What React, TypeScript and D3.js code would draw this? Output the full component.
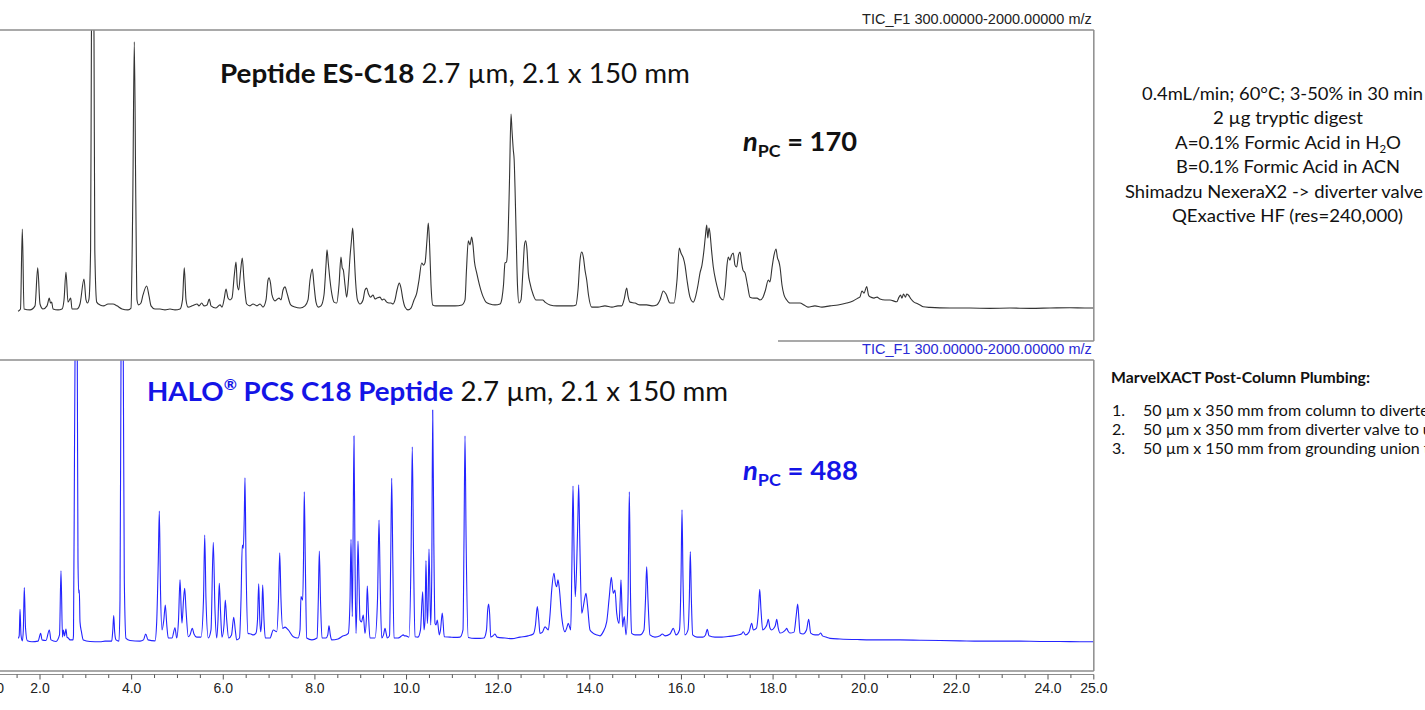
import { useEffect, useRef } from 'react';
import * as d3 from 'd3';

// retention time (min), relative intensity (% of frame height)
const esC18Trace: [number, number][] = [
  [1.520,9.6],[1.574,10.3],[1.614,36.0],[1.651,10.3],[1.782,10.0],[1.891,11.3],[1.950,23.5],[2.000,11.9],[2.065,10.3],[2.153,11.3],[2.203,13.8],[2.229,12.2],[2.255,12.5],[2.284,10.3],[2.393,10.0],[2.480,10.3],[2.524,13.2],[2.567,22.2],[2.611,12.5],[2.670,13.8],[2.698,10.3],[2.808,10.3],[2.873,11.9],[2.960,19.9],[3.004,13.2],[3.037,12.2],[3.069,13.5],[3.104,29.3],[3.122,96.8],[3.150,157.9],[3.179,96.8],[3.196,29.3],[3.238,12.5],[3.310,11.6],[3.397,11.3],[3.484,11.9],[3.593,11.9],[3.681,11.3],[3.790,10.3],[3.921,10.0],[3.986,10.6],[4.025,45.3],[4.058,96.2],[4.091,45.3],[4.117,13.2],[4.150,11.6],[4.204,12.2],[4.248,14.8],[4.329,17.7],[4.379,14.5],[4.423,11.3],[4.510,10.3],[4.619,10.3],[4.728,10.0],[4.837,10.3],[4.946,10.0],[5.056,10.3],[5.110,13.2],[5.149,23.5],[5.187,13.2],[5.230,10.9],[5.317,11.3],[5.361,11.6],[5.427,11.9],[5.470,11.3],[5.529,12.2],[5.579,11.3],[5.645,11.6],[5.695,13.5],[5.732,11.3],[5.841,10.6],[5.929,11.6],[5.972,10.9],[6.016,13.2],[6.060,16.7],[6.103,13.8],[6.147,13.2],[6.190,13.8],[6.241,21.2],[6.278,25.4],[6.306,18.0],[6.337,16.4],[6.376,22.2],[6.415,26.7],[6.452,19.6],[6.511,11.9],[6.583,11.3],[6.649,11.9],[6.736,11.3],[6.802,11.9],[6.867,10.9],[6.933,13.2],[6.976,19.6],[6.998,20.3],[7.031,18.6],[7.063,14.8],[7.129,12.9],[7.216,13.8],[7.260,13.2],[7.304,16.4],[7.347,17.4],[7.391,15.4],[7.472,11.6],[7.565,10.9],[7.675,10.6],[7.784,11.3],[7.849,13.2],[7.893,19.6],[7.943,23.1],[7.980,18.0],[8.024,12.5],[8.074,10.9],[8.133,11.3],[8.198,14.8],[8.242,24.4],[8.264,29.3],[8.292,25.1],[8.329,19.6],[8.373,14.8],[8.417,12.5],[8.476,12.2],[8.526,18.0],[8.569,27.0],[8.596,23.5],[8.620,22.8],[8.657,18.0],[8.694,14.1],[8.733,19.6],[8.766,27.0],[8.799,32.5],[8.825,36.3],[8.853,29.3],[8.886,19.6],[8.929,13.2],[8.984,11.9],[9.050,13.2],[9.093,16.4],[9.130,17.0],[9.170,15.1],[9.213,14.1],[9.268,14.8],[9.311,13.5],[9.355,13.8],[9.421,14.1],[9.464,13.2],[9.508,13.5],[9.567,12.5],[9.617,12.2],[9.661,12.2],[9.704,11.9],[9.748,13.2],[9.792,16.4],[9.842,18.6],[9.879,17.0],[9.923,13.2],[9.966,10.9],[10.032,10.0],[10.097,10.6],[10.163,13.2],[10.222,15.4],[10.272,19.6],[10.331,25.1],[10.370,24.4],[10.403,25.1],[10.446,32.5],[10.475,37.9],[10.503,30.9],[10.534,18.0],[10.571,11.6],[10.643,11.3],[10.839,11.3],[11.057,11.3],[11.210,11.6],[11.276,13.2],[11.308,22.8],[11.348,32.2],[11.385,30.9],[11.422,33.4],[11.450,30.9],[11.483,25.4],[11.531,21.9],[11.592,18.0],[11.675,14.1],[11.734,12.5],[11.821,11.9],[11.930,11.6],[12.040,11.9],[12.083,13.8],[12.116,18.0],[12.149,25.1],[12.181,25.4],[12.214,32.5],[12.247,51.8],[12.280,73.0],[12.301,67.8],[12.330,61.4],[12.349,58.2],[12.367,49.5],[12.395,32.5],[12.421,18.0],[12.454,12.2],[12.498,13.2],[12.541,22.8],[12.574,30.9],[12.600,32.2],[12.629,29.3],[12.657,21.9],[12.694,18.6],[12.766,14.8],[12.825,13.2],[12.912,13.2],[12.971,13.2],[13.022,12.5],[13.131,11.6],[13.277,11.3],[13.458,11.3],[13.611,11.3],[13.698,11.6],[13.742,16.4],[13.786,26.0],[13.823,28.6],[13.862,26.7],[13.895,22.8],[13.932,19.6],[13.971,14.8],[14.041,10.9],[14.178,10.9],[14.331,11.3],[14.484,10.9],[14.615,11.3],[14.696,11.3],[14.746,13.2],[14.805,17.0],[14.833,14.5],[14.877,12.5],[14.986,12.2],[15.095,11.6],[15.241,11.6],[15.357,11.3],[15.460,11.6],[15.532,13.2],[15.604,16.1],[15.663,15.1],[15.750,12.2],[15.837,12.2],[15.903,19.6],[15.953,29.9],[15.990,28.3],[16.040,26.7],[16.077,24.4],[16.121,19.6],[16.186,14.1],[16.258,12.5],[16.317,14.8],[16.361,18.0],[16.405,21.9],[16.448,24.4],[16.492,29.3],[16.525,34.1],[16.551,37.3],[16.575,33.1],[16.601,36.3],[16.623,34.7],[16.656,29.3],[16.695,23.8],[16.754,19.0],[16.797,16.4],[16.841,14.1],[16.913,13.2],[16.961,18.0],[16.994,24.4],[17.022,27.0],[17.059,26.0],[17.092,27.6],[17.131,28.3],[17.168,24.4],[17.206,23.8],[17.245,27.6],[17.278,28.6],[17.310,25.4],[17.343,22.8],[17.387,21.9],[17.441,18.0],[17.496,14.1],[17.583,13.8],[17.649,13.8],[17.714,13.2],[17.780,14.1],[17.834,16.4],[17.895,19.6],[17.932,19.0],[17.976,23.5],[18.020,27.6],[18.063,29.6],[18.096,26.7],[18.129,25.4],[18.151,23.8],[18.194,18.0],[18.238,14.8],[18.297,13.2],[18.369,12.2],[18.515,12.2],[18.587,12.2],[18.674,11.6],[18.762,10.9],[18.914,11.3],[19.067,10.9],[19.242,11.3],[19.416,11.6],[19.606,12.2],[19.744,12.9],[19.853,13.8],[19.897,14.2],[19.940,16.1],[19.984,15.4],[20.043,17.5],[20.082,14.8],[20.115,14.2],[20.202,13.8],[20.268,14.1],[20.333,13.5],[20.442,13.2],[20.551,13.2],[20.698,12.6],[20.748,14.1],[20.780,14.8],[20.813,13.8],[20.846,15.1],[20.890,14.1],[20.916,15.1],[20.951,14.8],[21.010,13.5],[21.075,12.5],[21.134,12.1],[21.206,11.6],[21.278,11.0],[21.424,10.8],[21.861,10.6],[22.297,10.6],[22.734,10.5],[23.170,10.6],[23.607,10.5],[24.043,10.6],[24.480,10.7],[24.807,10.6],[25.000,10.6],
];

const haloTrace: [number, number][] = [
  [1.526,10.5],[1.546,11.3],[1.564,19.8],[1.585,11.6],[1.614,9.7],[1.636,13.2],[1.657,26.8],[1.684,13.8],[1.723,9.7],[1.825,9.4],[1.956,9.6],[2.015,12.1],[2.044,10.0],[2.131,9.8],[2.203,13.2],[2.240,10.0],[2.349,9.5],[2.426,11.6],[2.458,32.2],[2.491,10.9],[2.509,13.2],[2.535,11.3],[2.567,13.5],[2.589,10.9],[2.618,10.6],[2.655,10.0],[2.720,10.0],[2.731,11.6],[2.753,71.1],[2.764,100.0],[2.790,167.5],[2.814,100.0],[2.829,35.7],[2.845,25.1],[2.858,26.0],[2.873,15.8],[2.906,12.5],[2.945,10.0],[3.091,9.5],[3.310,9.4],[3.419,9.6],[3.565,9.6],[3.589,13.2],[3.609,17.8],[3.630,12.5],[3.659,10.0],[3.724,9.6],[3.746,22.8],[3.768,100.0],[3.794,167.5],[3.818,100.0],[3.840,29.3],[3.877,10.5],[3.964,9.8],[4.183,9.6],[4.259,10.0],[4.307,11.9],[4.357,10.0],[4.510,9.7],[4.547,15.8],[4.582,35.7],[4.604,51.4],[4.630,26.0],[4.663,13.2],[4.702,16.4],[4.735,21.2],[4.767,14.8],[4.800,10.6],[4.881,10.6],[4.946,13.9],[4.984,10.6],[5.023,16.4],[5.056,29.3],[5.082,19.6],[5.099,15.4],[5.132,22.8],[5.158,26.6],[5.187,19.6],[5.237,11.0],[5.274,11.6],[5.324,13.7],[5.361,11.9],[5.420,10.9],[5.514,10.9],[5.568,22.8],[5.595,43.7],[5.623,22.8],[5.673,10.6],[5.732,13.2],[5.782,41.4],[5.819,19.6],[5.857,10.6],[5.885,16.4],[5.913,28.2],[5.939,19.6],[5.972,10.9],[6.016,14.8],[6.044,22.8],[6.075,16.4],[6.118,10.6],[6.180,11.6],[6.228,17.3],[6.262,13.2],[6.293,10.0],[6.354,10.6],[6.387,22.8],[6.415,40.5],[6.437,39.5],[6.457,48.5],[6.474,62.1],[6.496,35.7],[6.540,12.1],[6.605,11.9],[6.655,11.6],[6.714,12.2],[6.747,16.4],[6.773,28.0],[6.797,16.4],[6.817,12.6],[6.839,16.4],[6.860,27.6],[6.889,16.4],[6.917,10.6],[7.020,10.6],[7.092,13.2],[7.166,12.6],[7.205,22.8],[7.232,38.0],[7.260,22.8],[7.297,13.7],[7.347,14.1],[7.419,13.2],[7.528,11.0],[7.631,10.6],[7.675,13.2],[7.696,23.9],[7.733,22.8],[7.751,35.7],[7.768,57.6],[7.790,35.7],[7.821,10.6],[7.936,10.0],[8.046,10.6],[8.074,22.8],[8.096,38.6],[8.122,22.8],[8.155,10.6],[8.242,10.6],[8.281,11.6],[8.307,14.5],[8.336,11.6],[8.366,10.0],[8.504,10.3],[8.620,11.3],[8.678,11.6],[8.729,12.1],[8.766,22.8],[8.788,42.3],[8.816,17.5],[8.833,42.1],[8.853,75.6],[8.875,35.7],[8.897,12.1],[8.919,22.8],[8.940,41.8],[8.962,29.3],[8.984,16.4],[9.017,15.8],[9.056,18.0],[9.093,12.1],[9.122,16.4],[9.143,27.3],[9.170,18.0],[9.202,10.6],[9.311,10.6],[9.366,22.8],[9.399,48.5],[9.427,26.0],[9.458,10.6],[9.497,11.6],[9.530,13.7],[9.558,11.9],[9.580,10.6],[9.628,11.3],[9.654,35.7],[9.676,62.0],[9.700,35.7],[9.726,10.6],[9.813,10.6],[9.857,10.9],[9.890,11.3],[9.929,11.6],[9.955,11.3],[9.988,11.3],[10.053,10.9],[10.097,35.7],[10.125,72.1],[10.154,35.7],[10.184,11.0],[10.250,10.9],[10.304,13.2],[10.352,25.5],[10.381,13.2],[10.403,16.4],[10.424,35.5],[10.453,15.3],[10.468,19.6],[10.490,39.2],[10.527,14.8],[10.549,29.3],[10.571,83.9],[10.595,42.1],[10.621,15.3],[10.643,14.8],[10.671,16.4],[10.715,11.6],[10.741,13.2],[10.780,18.6],[10.824,11.0],[10.948,10.9],[11.057,10.8],[11.167,10.9],[11.232,13.2],[11.254,42.1],[11.276,75.6],[11.300,42.1],[11.348,10.8],[11.494,10.5],[11.603,10.5],[11.690,10.6],[11.745,13.2],[11.771,19.6],[11.793,21.5],[11.815,18.0],[11.837,10.9],[11.887,11.3],[11.930,11.9],[11.974,10.9],[12.149,10.6],[12.301,10.4],[12.476,10.9],[12.651,11.3],[12.766,11.9],[12.814,14.8],[12.854,20.7],[12.886,16.4],[12.912,12.1],[12.967,12.5],[13.022,14.2],[13.094,13.2],[13.131,18.0],[13.168,26.0],[13.218,31.4],[13.247,28.3],[13.277,27.1],[13.305,29.3],[13.334,26.6],[13.386,17.5],[13.458,12.6],[13.495,13.8],[13.530,15.3],[13.583,13.2],[13.607,32.5],[13.633,59.5],[13.659,35.7],[13.683,23.9],[13.714,34.6],[13.738,48.5],[13.757,59.9],[13.781,42.1],[13.823,18.6],[13.858,20.7],[13.890,23.5],[13.917,25.0],[13.949,21.2],[14.004,13.2],[14.069,12.2],[14.150,11.6],[14.222,11.3],[14.288,12.5],[14.368,15.8],[14.425,23.9],[14.469,30.1],[14.512,25.0],[14.549,26.0],[14.587,18.6],[14.637,15.3],[14.663,22.8],[14.680,29.3],[14.717,14.2],[14.735,16.4],[14.752,17.5],[14.790,11.6],[14.833,22.8],[14.862,57.6],[14.890,22.8],[14.914,12.1],[14.986,11.6],[15.095,11.6],[15.182,13.2],[15.215,22.8],[15.241,33.5],[15.270,22.8],[15.313,11.6],[15.422,10.9],[15.532,11.3],[15.582,11.9],[15.641,11.3],[15.750,11.9],[15.822,13.7],[15.881,11.6],[15.957,13.2],[15.990,29.3],[16.012,51.8],[16.034,29.3],[16.077,11.6],[16.143,13.2],[16.171,22.8],[16.193,38.4],[16.217,22.8],[16.245,11.6],[16.339,10.9],[16.470,10.9],[16.525,11.6],[16.564,13.4],[16.601,11.3],[16.732,10.9],[16.885,10.9],[17.016,11.1],[17.131,11.3],[17.234,11.6],[17.310,11.9],[17.350,12.6],[17.398,11.6],[17.474,12.5],[17.533,15.3],[17.568,13.2],[17.638,13.8],[17.681,19.6],[17.708,26.3],[17.736,19.6],[17.773,13.2],[17.823,13.8],[17.862,14.8],[17.895,16.6],[17.932,13.8],[17.969,13.2],[18.020,13.8],[18.052,14.8],[18.079,16.6],[18.113,13.8],[18.151,12.2],[18.216,12.5],[18.271,13.2],[18.297,13.7],[18.325,12.9],[18.369,12.2],[18.456,12.5],[18.506,18.0],[18.537,21.5],[18.565,16.4],[18.587,12.2],[18.653,11.9],[18.729,13.2],[18.777,16.6],[18.821,12.2],[18.914,11.6],[18.991,11.6],[19.039,12.2],[19.078,11.3],[19.155,10.9],[19.242,10.5],[19.460,10.3],[19.897,10.1],[20.333,10.0],[20.770,10.0],[21.206,9.9],[21.643,9.8],[22.079,9.7],[22.516,9.6],[22.952,9.6],[23.389,9.6],[23.825,9.5],[24.262,9.5],[24.698,9.4],[25.000,9.4],
];

const timeLabels = [1.0, 2.0, 4.0, 6.0, 8.0, 10.0, 12.0, 14.0, 16.0, 18.0, 20.0, 22.0, 24.0, 25.0];
const ticLabel = 'TIC_F1 300.00000-2000.00000 m/z';

type Part = { t: string; weight?: number; italic?: boolean; fill?: string; size?: number; dy?: number };

const conditionLines: Part[][] = [
  [{ t: '0.4mL/min; 60°C; 3-50% in 30 min' }],
  [{ t: '2 µg tryptic digest' }],
  [{ t: 'A=0.1% Formic Acid in H' }, { t: '2', size: 11, dy: 4 }, { t: 'O', dy: -4 }],
  [{ t: 'B=0.1% Formic Acid in ACN' }],
  [{ t: 'Shimadzu NexeraX2 -> diverter valve' }],
  [{ t: 'QExactive HF (res=240,000)' }],
];
// left edge and width of each line as laid out in the note
const conditionBoxes = [
  [1142, 281],
  [1213, 150],
  [1175, 226],
  [1176, 224],
  [1125, 298],
  [1172, 231],
];

const plumbingTitle = 'MarvelXACT Post-Column  Plumbing:';
const plumbingSteps = [
  '50 µm x 350 mm from column to diverter valve',
  '50 µm x 350 mm from diverter valve to union',
  '50 µm x 150 mm from grounding union to emitter',
];

const BLUE = '#1414e6';
const SANS = 'Lato, "Open Sans", sans-serif';
const ARIAL = '"Liberation Sans", Arial, sans-serif';

function drawText(
  g: d3.Selection<SVGGElement, unknown, null, undefined>,
  x: number,
  y: number,
  parts: Part[],
  o: { size: number; fill?: string; family?: string; weight?: number; width?: number; anchor?: string }
) {
  const t = g
    .append('text')
    .attr('x', x)
    .attr('y', y)
    .attr('font-family', o.family ?? SANS)
    .attr('font-size', o.size)
    .attr('font-weight', o.weight ?? 400)
    .attr('fill', o.fill ?? '#111')
    .attr('text-anchor', o.anchor ?? 'start');
  parts.forEach((p) => {
    const s = t.append('tspan').text(p.t);
    if (p.weight) s.attr('font-weight', p.weight);
    if (p.italic) s.attr('font-style', 'italic');
    if (p.fill) s.attr('fill', p.fill);
    if (p.size) s.attr('font-size', p.size);
    if (p.dy) s.attr('dy', p.dy);
  });
  if (o.width) t.attr('textLength', o.width).attr('lengthAdjust', 'spacingAndGlyphs');
  return t;
}

export default function App() {
  const svgRef = useRef<SVGSVGElement>(null);

  useEffect(() => {
    if (!svgRef.current) return;
    const svg = d3.select(svgRef.current);
    svg.selectAll('*').remove();
    const root = svg.append('g');

    const x = d3.scaleLinear().domain([2, 24]).range([40, 1048]);
    const xEnd = x(25);
    const frame = '#8c8c8c';

    const panels = [
      { id: 'es', data: esC18Trace, top: 30, bottom: 341, stroke: '#333', ticFill: '#222', ticY: 24, bottomFrom: 778 },
      { id: 'halo', data: haloTrace, top: 360, bottom: 671, stroke: '#2424ff', ticFill: '#2a2ad6', ticY: 354, bottomFrom: 0 },
    ];

    const defs = svg.append('defs');
    panels.forEach((p) => {
      const y = d3.scaleLinear().domain([0, 100]).range([p.bottom, p.top]);
      defs
        .append('clipPath')
        .attr('id', `clip-${p.id}`)
        .append('rect')
        .attr('x', 0)
        .attr('y', p.top)
        .attr('width', xEnd)
        .attr('height', p.bottom - p.top);

      const line = d3
        .line<[number, number]>()
        .x((d) => x(d[0]))
        .y((d) => y(d[1]))
        .curve(d3.curveMonotoneX);

      root
        .append('path')
        .datum(p.data)
        .attr('d', line)
        .attr('fill', 'none')
        .attr('stroke', p.stroke)
        .attr('stroke-width', 1.1)
        .attr('stroke-linejoin', 'round')
        .attr('clip-path', `url(#clip-${p.id})`);

      const fr = root.append('g').attr('stroke', frame).attr('stroke-width', 1.5).attr('fill', 'none');
      fr.append('line').attr('x1', 0).attr('x2', xEnd).attr('y1', p.top).attr('y2', p.top);
      fr.append('line').attr('x1', xEnd).attr('x2', xEnd).attr('y1', p.top).attr('y2', p.bottom);
      fr.append('line').attr('x1', p.bottomFrom).attr('x2', xEnd).attr('y1', p.bottom).attr('y2', p.bottom);

      drawText(root, xEnd - 2, p.ticY, [{ t: ticLabel }], {
        size: 14.5,
        family: ARIAL,
        fill: p.ticFill,
        anchor: 'end',
      });
    });

    // time axis
    const axisY = 674.5;
    const ax = root.append('g');
    ax.append('line').attr('x1', 0).attr('x2', xEnd).attr('y1', axisY).attr('y2', axisY).attr('stroke', frame).attr('stroke-width', 1.2);
    const minor = d3.range(1.5, 25.01, 0.5);
    ax.selectAll('line.minor')
      .data(minor)
      .join('line')
      .attr('class', 'minor')
      .attr('x1', (d) => x(d))
      .attr('x2', (d) => x(d))
      .attr('y1', axisY)
      .attr('y2', (d) => axisY + (timeLabels.includes(d) ? 5 : 3.5))
      .attr('stroke', '#555')
      .attr('stroke-width', 1);
    ax.selectAll('text')
      .data(timeLabels)
      .join('text')
      .attr('x', (d) => x(d))
      .attr('y', 693)
      .attr('text-anchor', 'middle')
      .attr('font-family', ARIAL)
      .attr('font-size', 14)
      .attr('fill', '#222')
      .text((d) => d3.format('.1f')(d));

    // panel titles
    drawText(
      root,
      220,
      83,
      [{ t: 'Peptide ES-C18', weight: 700 }, { t: ' 2.7 µm, 2.1 x 150 mm' }],
      { size: 26, width: 470 }
    );
    drawText(
      root,
      743,
      150.5,
      [{ t: 'n', italic: true }, { t: 'PC', size: 17, dy: 6 }, { t: ' = 170', dy: -6 }],
      { size: 26, weight: 700, width: 114 }
    );
    drawText(
      root,
      147,
      401,
      [
        { t: 'HALO', weight: 700, fill: BLUE },
        { t: '®', weight: 700, fill: BLUE, size: 15, dy: -11 },
        { t: ' PCS C18 Peptide', weight: 700, fill: BLUE, dy: 11 },
        { t: ' 2.7 µm, 2.1 x 150 mm' },
      ],
      { size: 26, width: 581 }
    );
    drawText(
      root,
      743,
      480,
      [{ t: 'n', italic: true }, { t: 'PC', size: 17, dy: 6 }, { t: ' = 488', dy: -6 }],
      { size: 26, weight: 700, fill: BLUE, width: 115 }
    );

    // run conditions
    conditionLines.forEach((parts, i) => {
      const [left, w] = conditionBoxes[i];
      drawText(root, left, 100 + i * 24.4, parts, { size: 18, fill: '#111', width: w });
    });

    // plumbing notes
    drawText(root, 1111, 383, [{ t: plumbingTitle }], { size: 15, weight: 700, fill: '#111', width: 259 });
    plumbingSteps.forEach((s, i) => {
      const yy = 416 + i * 18.8;
      drawText(root, 1112, yy, [{ t: `${i + 1}.` }], { size: 16, fill: '#111' });
      drawText(root, 1143, yy, [{ t: s }], { size: 16, fill: '#111' });
    });
  }, []);

  return (
    <svg
      ref={svgRef}
      width={1425}
      height={710}
      style={{ position: 'absolute', left: 0, top: 0, background: '#fff' }}
    />
  );
}
